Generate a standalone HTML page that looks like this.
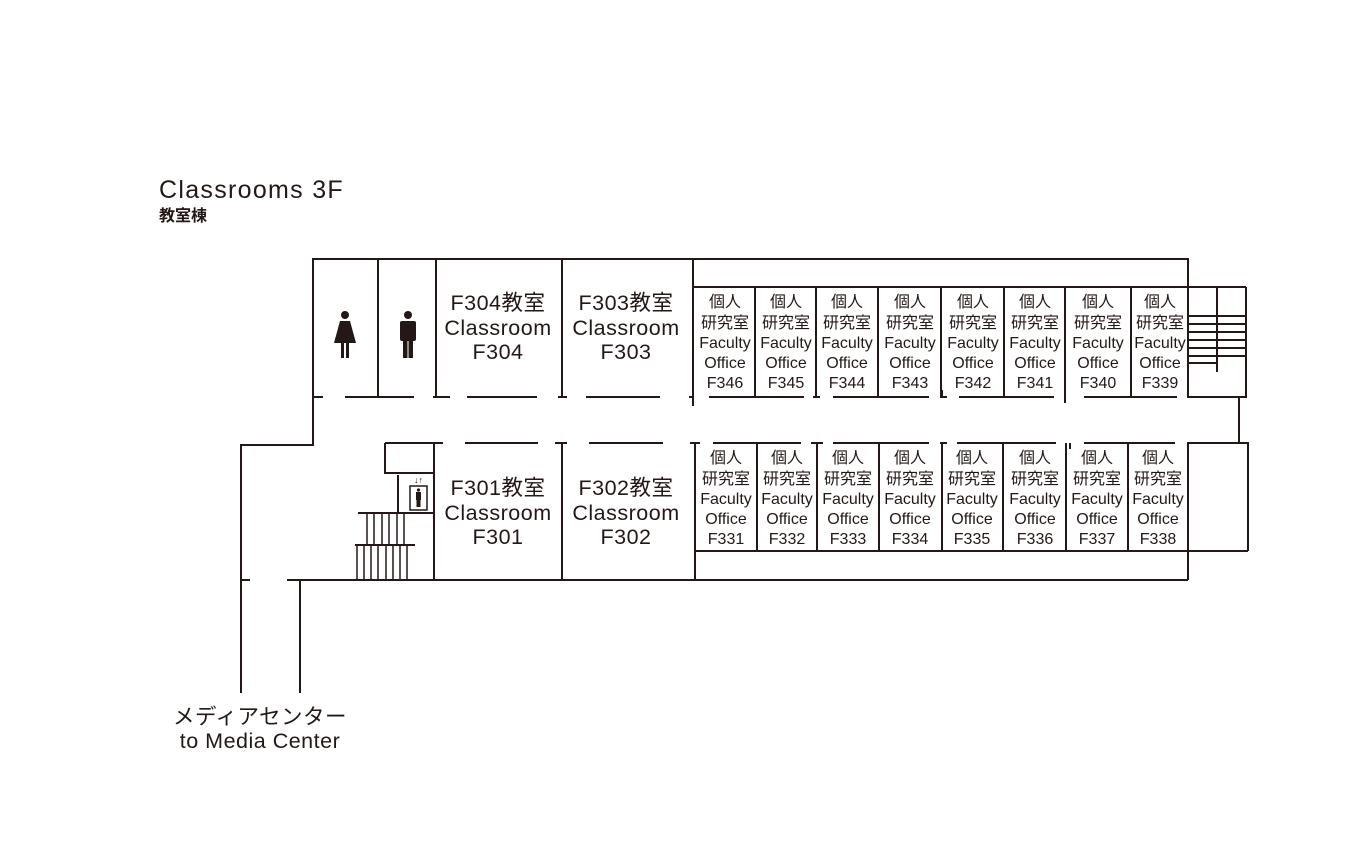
<!DOCTYPE html>
<html><head><meta charset="utf-8"><style>
html,body{margin:0;padding:0;background:#fff;}
svg{display:block;}
text{font-family:"Liberation Sans","Noto Sans CJK JP",sans-serif;fill:#231815;}
</style></head><body>
<svg width="1356" height="867" viewBox="0 0 1356 867" xmlns="http://www.w3.org/2000/svg">
<text x="159" y="198" font-size="25" letter-spacing="1.3">Classrooms 3F</text>
<text x="159" y="221" font-size="16" font-weight="bold">教室棟</text>
<g stroke="#231815" stroke-width="2" fill="none">
<polyline points="241,693 241,445 313,445 313,259 1188,259 1188,287"/>
<line x1="693" y1="287" x2="1246" y2="287"/>
<line x1="241" y1="580" x2="250" y2="580"/>
<line x1="287" y1="580" x2="1188" y2="580"/>
<line x1="300" y1="580" x2="300" y2="693"/>
<line x1="378" y1="259" x2="378" y2="397"/>
<line x1="436" y1="259" x2="436" y2="397"/>
<line x1="562" y1="259" x2="562" y2="397"/>
<line x1="693" y1="259" x2="693" y2="406"/>
<line x1="313" y1="397" x2="323" y2="397"/>
<line x1="345" y1="397" x2="414" y2="397"/>
<line x1="433" y1="397" x2="450" y2="397"/>
<line x1="467" y1="397" x2="537" y2="397"/>
<line x1="558" y1="397" x2="567" y2="397"/>
<line x1="586" y1="397" x2="660" y2="397"/>
<line x1="689" y1="397" x2="693" y2="397"/>
<line x1="709" y1="397" x2="804" y2="397"/>
<line x1="813" y1="397" x2="820" y2="397"/><line x1="816" y1="390" x2="816" y2="397"/>
<line x1="833" y1="397" x2="929" y2="397"/>
<line x1="940" y1="397" x2="947" y2="397"/><line x1="942" y1="390" x2="942" y2="397"/>
<line x1="959" y1="397" x2="1054" y2="397"/>
<line x1="1065" y1="287" x2="1065" y2="403"/>
<line x1="1084" y1="397" x2="1177" y2="397"/>
<line x1="755" y1="287" x2="755" y2="397"/>
<line x1="816" y1="287" x2="816" y2="397"/>
<line x1="878" y1="287" x2="878" y2="397"/>
<line x1="941" y1="287" x2="941" y2="397"/>
<line x1="1004" y1="287" x2="1004" y2="397"/>
<line x1="1131" y1="287" x2="1131" y2="397"/>
<polyline points="1188,287 1188,397 1246,397 1246,287"/>
<line x1="1217" y1="287" x2="1217" y2="372"/>
<line x1="1188" y1="316" x2="1246" y2="316"/>
<line x1="1188" y1="324" x2="1246" y2="324"/>
<line x1="1188" y1="332" x2="1246" y2="332"/>
<line x1="1188" y1="340" x2="1246" y2="340"/>
<line x1="1188" y1="348" x2="1246" y2="348"/>
<line x1="1188" y1="356" x2="1246" y2="356"/>
<line x1="1188" y1="363" x2="1217" y2="363"/>
<line x1="1239" y1="397" x2="1239" y2="443"/>
<line x1="385" y1="443" x2="443" y2="443"/>
<line x1="465" y1="443" x2="538" y2="443"/>
<line x1="555" y1="443" x2="567" y2="443"/><line x1="562" y1="443" x2="562" y2="580"/>
<line x1="589" y1="443" x2="663" y2="443"/>
<line x1="690" y1="443" x2="700" y2="443"/>
<line x1="695" y1="443" x2="695" y2="580"/>
<line x1="713" y1="443" x2="801" y2="443"/>
<line x1="811" y1="443" x2="823" y2="443"/>
<line x1="833" y1="443" x2="929" y2="443"/>
<line x1="940" y1="443" x2="947" y2="443"/>
<line x1="957" y1="443" x2="1056" y2="443"/>
<line x1="1070" y1="443" x2="1070" y2="449"/>
<line x1="1084" y1="443" x2="1175" y2="443"/>
<line x1="757" y1="443" x2="757" y2="551"/>
<line x1="817" y1="443" x2="817" y2="551"/>
<line x1="879" y1="443" x2="879" y2="551"/>
<line x1="942" y1="443" x2="942" y2="551"/>
<line x1="1003" y1="443" x2="1003" y2="551"/>
<line x1="1066" y1="443" x2="1066" y2="551"/>
<line x1="1128" y1="443" x2="1128" y2="551"/>
<line x1="695" y1="551" x2="1248" y2="551"/>
<polyline points="1188,551 1188,443 1248,443 1248,551"/>
<line x1="1188" y1="551" x2="1188" y2="580"/>
<polyline points="385,443 385,473 434,473"/>
<line x1="434" y1="443" x2="434" y2="580"/>
<line x1="398" y1="475" x2="398" y2="513"/>
<line x1="398" y1="513" x2="434" y2="513"/>
<line x1="358" y1="513" x2="415" y2="513"/>
<line x1="355" y1="545" x2="415" y2="545"/>
<g stroke-width="1.5">
<line x1="367" y1="513" x2="367" y2="545"/><line x1="374" y1="513" x2="374" y2="545"/>
<line x1="382" y1="513" x2="382" y2="545"/><line x1="389" y1="513" x2="389" y2="545"/>
<line x1="397" y1="513" x2="397" y2="545"/><line x1="404" y1="513" x2="404" y2="545"/>
<line x1="357" y1="545" x2="357" y2="580"/><line x1="364" y1="545" x2="364" y2="580"/>
<line x1="371" y1="545" x2="371" y2="580"/><line x1="378" y1="545" x2="378" y2="580"/>
<line x1="386" y1="545" x2="386" y2="580"/><line x1="393" y1="545" x2="393" y2="580"/>
<line x1="400" y1="545" x2="400" y2="580"/><line x1="407" y1="545" x2="407" y2="580"/>
</g>
<rect x="410" y="486" width="17" height="24" stroke-width="1.5"/>
</g>
<g fill="#231815">
<circle cx="418.5" cy="490" r="1.6"/><rect x="416" y="492" width="5" height="8"/><rect x="416.5" y="499" width="4" height="8"/>
<text x="418.5" y="483" font-size="9" text-anchor="middle">↓↑</text>
<circle cx="345" cy="315" r="4"/>
<path d="M340,321 L350,321 L356,343 L334,343 Z"/>
<rect x="341" y="342" width="3" height="16"/><rect x="346" y="342" width="3" height="16"/>
<circle cx="408" cy="315" r="4"/>
<rect x="400" y="321" width="16" height="20" rx="2"/>
<rect x="403" y="338" width="4.5" height="20"/><rect x="408.5" y="338" width="4.5" height="20"/>
</g>
<g font-size="21.5" text-anchor="middle" letter-spacing="0.5">
<text x="498" y="310">F304教室</text><text x="498" y="335">Classroom</text><text x="498" y="359">F304</text>
<text x="626" y="310">F303教室</text><text x="626" y="335">Classroom</text><text x="626" y="359">F303</text>
<text x="498" y="495">F301教室</text><text x="498" y="520">Classroom</text><text x="498" y="544">F301</text>
<text x="626" y="495">F302教室</text><text x="626" y="520">Classroom</text><text x="626" y="544">F302</text>
</g>
<g font-size="16" text-anchor="middle">
<text x="725" y="307">個人</text><text x="725" y="328">研究室</text><text x="725" y="348">Faculty</text><text x="725" y="368">Office</text><text x="725" y="388">F346</text>
<text x="786" y="307">個人</text><text x="786" y="328">研究室</text><text x="786" y="348">Faculty</text><text x="786" y="368">Office</text><text x="786" y="388">F345</text>
<text x="847" y="307">個人</text><text x="847" y="328">研究室</text><text x="847" y="348">Faculty</text><text x="847" y="368">Office</text><text x="847" y="388">F344</text>
<text x="910" y="307">個人</text><text x="910" y="328">研究室</text><text x="910" y="348">Faculty</text><text x="910" y="368">Office</text><text x="910" y="388">F343</text>
<text x="973" y="307">個人</text><text x="973" y="328">研究室</text><text x="973" y="348">Faculty</text><text x="973" y="368">Office</text><text x="973" y="388">F342</text>
<text x="1035" y="307">個人</text><text x="1035" y="328">研究室</text><text x="1035" y="348">Faculty</text><text x="1035" y="368">Office</text><text x="1035" y="388">F341</text>
<text x="1098" y="307">個人</text><text x="1098" y="328">研究室</text><text x="1098" y="348">Faculty</text><text x="1098" y="368">Office</text><text x="1098" y="388">F340</text>
<text x="1160" y="307">個人</text><text x="1160" y="328">研究室</text><text x="1160" y="348">Faculty</text><text x="1160" y="368">Office</text><text x="1160" y="388">F339</text>
<text x="726" y="463">個人</text><text x="726" y="484">研究室</text><text x="726" y="504">Faculty</text><text x="726" y="524">Office</text><text x="726" y="544">F331</text>
<text x="787" y="463">個人</text><text x="787" y="484">研究室</text><text x="787" y="504">Faculty</text><text x="787" y="524">Office</text><text x="787" y="544">F332</text>
<text x="848" y="463">個人</text><text x="848" y="484">研究室</text><text x="848" y="504">Faculty</text><text x="848" y="524">Office</text><text x="848" y="544">F333</text>
<text x="910" y="463">個人</text><text x="910" y="484">研究室</text><text x="910" y="504">Faculty</text><text x="910" y="524">Office</text><text x="910" y="544">F334</text>
<text x="972" y="463">個人</text><text x="972" y="484">研究室</text><text x="972" y="504">Faculty</text><text x="972" y="524">Office</text><text x="972" y="544">F335</text>
<text x="1035" y="463">個人</text><text x="1035" y="484">研究室</text><text x="1035" y="504">Faculty</text><text x="1035" y="524">Office</text><text x="1035" y="544">F336</text>
<text x="1097" y="463">個人</text><text x="1097" y="484">研究室</text><text x="1097" y="504">Faculty</text><text x="1097" y="524">Office</text><text x="1097" y="544">F337</text>
<text x="1158" y="463">個人</text><text x="1158" y="484">研究室</text><text x="1158" y="504">Faculty</text><text x="1158" y="524">Office</text><text x="1158" y="544">F338</text>
</g>
<g font-size="21.5" text-anchor="middle" letter-spacing="0.5">
<text x="260" y="724">メディアセンター</text>
<text x="260" y="748">to Media Center</text>
</g>
</svg>
</body></html>
